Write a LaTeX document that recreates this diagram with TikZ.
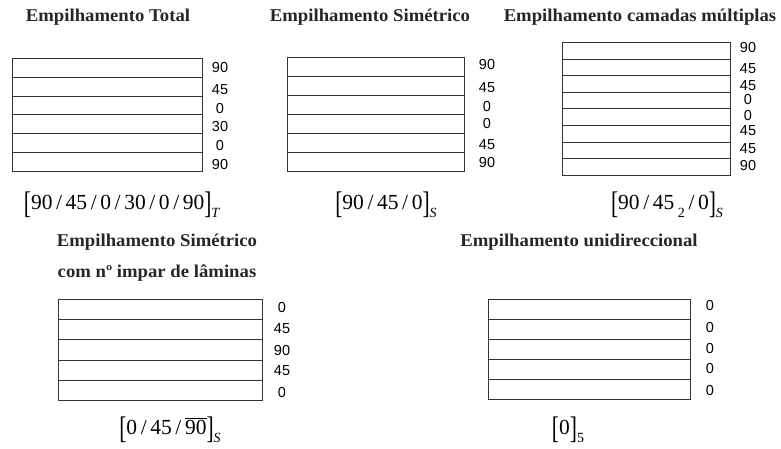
\documentclass[tikz,border=0pt]{standalone}
\usepackage{fontspec}
\usepackage{graphicx}
\setmainfont{Liberation Serif}
\newfontfamily\titlefont[FakeStretch=1.04]{Liberation Serif}
\newfontfamily\labelfont{Liberation Sans}
\newcommand\LB{\raisebox{-0.22em}{\scalebox{1}[1.45]{[}}}
\newcommand\RB{\raisebox{-0.22em}{\scalebox{1}[1.45]{]}}}
\newcommand\SL{\,/\,}
\newcommand\subx[1]{\raisebox{-0.4em}{\fontsize{14}{15}\selectfont #1}}
\tikzset{
  ttl/.style={font=\titlefont\bfseries\fontsize{18}{20}\selectfont, inner sep=0pt, text=black!85},
  lbl/.style={font=\labelfont\fontsize{14.5}{15}\selectfont, inner sep=0pt},
  frm/.style={font=\fontsize{21.5}{24}\selectfont, inner sep=0pt},
  ply/.style={draw=black!80, line width=1pt, rectangle, inner sep=0pt, anchor=north west}
}
\begin{document}
\begin{tikzpicture}[x=1pt,y=-1pt]
\useasboundingbox (0,0) rectangle (781,448);
% titles
\node[ttl] (t1) at (108,17) {Empilhamento Total};
\node[ttl] (t2) at (370,17) {Empilhamento Sim\'etrico};
\node[ttl] (t3) at (640,17) {Empilhamento camadas m\'ultiplas};
\node[ttl] (t4) at (157,242) {Empilhamento Sim\'etrico};
\node[ttl] (t4b) at (157,273) {com n\textordmasculine\ impar de l\^aminas};
\node[ttl] (t5) at (579,242) {Empilhamento unidireccional};
% stack 1
\foreach \i in {1,...,6}
  \node[ply, minimum width=190pt, minimum height=18.83pt] (a\i) at (12,{58+(\i-1)*18.83}) {};
\foreach \t/\y [count=\k] in {90/68,45/90,0/109,30/127,0/146,90/165}
  \node[lbl] (la\k) at (220,\y) {\t};
% stack 2
\foreach \i in {1,...,6}
  \node[ply, minimum width=177pt, minimum height=19pt] (b\i) at (287,{57+(\i-1)*19}) {};
\foreach \t/\y [count=\k] in {90/65,45/88,0/107,0/124,45/145,90/163}
  \node[lbl] (lb\k) at (487,\y) {\t};
% stack 3
\foreach \i in {1,...,8}
  \node[ply, minimum width=168pt, minimum height=16.6pt] (c\i) at (562,{42+(\i-1)*16.6}) {};
\foreach \t/\y [count=\k] in {90/48,45/69,45/86,0/100,0/116,45/131,45/149,90/166}
  \node[lbl] (lc\k) at (748,\y) {\t};
% stack 4
\foreach \i in {1,...,5}
  \node[ply, minimum width=204pt, minimum height=20.2pt] (d\i) at (58,{299+(\i-1)*20.2}) {};
\foreach \t/\y [count=\k] in {0/307,45/329,90/350,45/371,0/392}
  \node[lbl] (ld\k) at (282,\y) {\t};
% stack 5
\foreach \i in {1,...,5}
  \node[ply, minimum width=202pt, minimum height=20pt] (e\i) at (488,{299+(\i-1)*20}) {};
\foreach \t/\y [count=\k] in {0/305,0/327,0/348,0/368,0/390}
  \node[lbl] (le\k) at (710,\y) {\t};
% formulas
\node[frm] (f1) at (122,205) {\LB 90\SL 45\SL 0\SL 30\SL 0\SL 90\RB\subx{\textit{T}}};
\node[frm] (f2) at (386,205) {\LB 90\SL 45\SL 0\RB\subx{\textit{S}}};
\node[frm] (f3) at (667,205) {\LB 90\SL 45\,\subx{2}\SL 0\RB\subx{\textit{S}}};
\node[frm] (f4) at (170,430) {\LB 0\SL 45\SL $\overline{\mbox{90}}$\RB\subx{\textit{S}}};
\node[frm] (f5) at (568,430) {\LB 0\RB\subx{5}};
\end{tikzpicture}
\end{document}
